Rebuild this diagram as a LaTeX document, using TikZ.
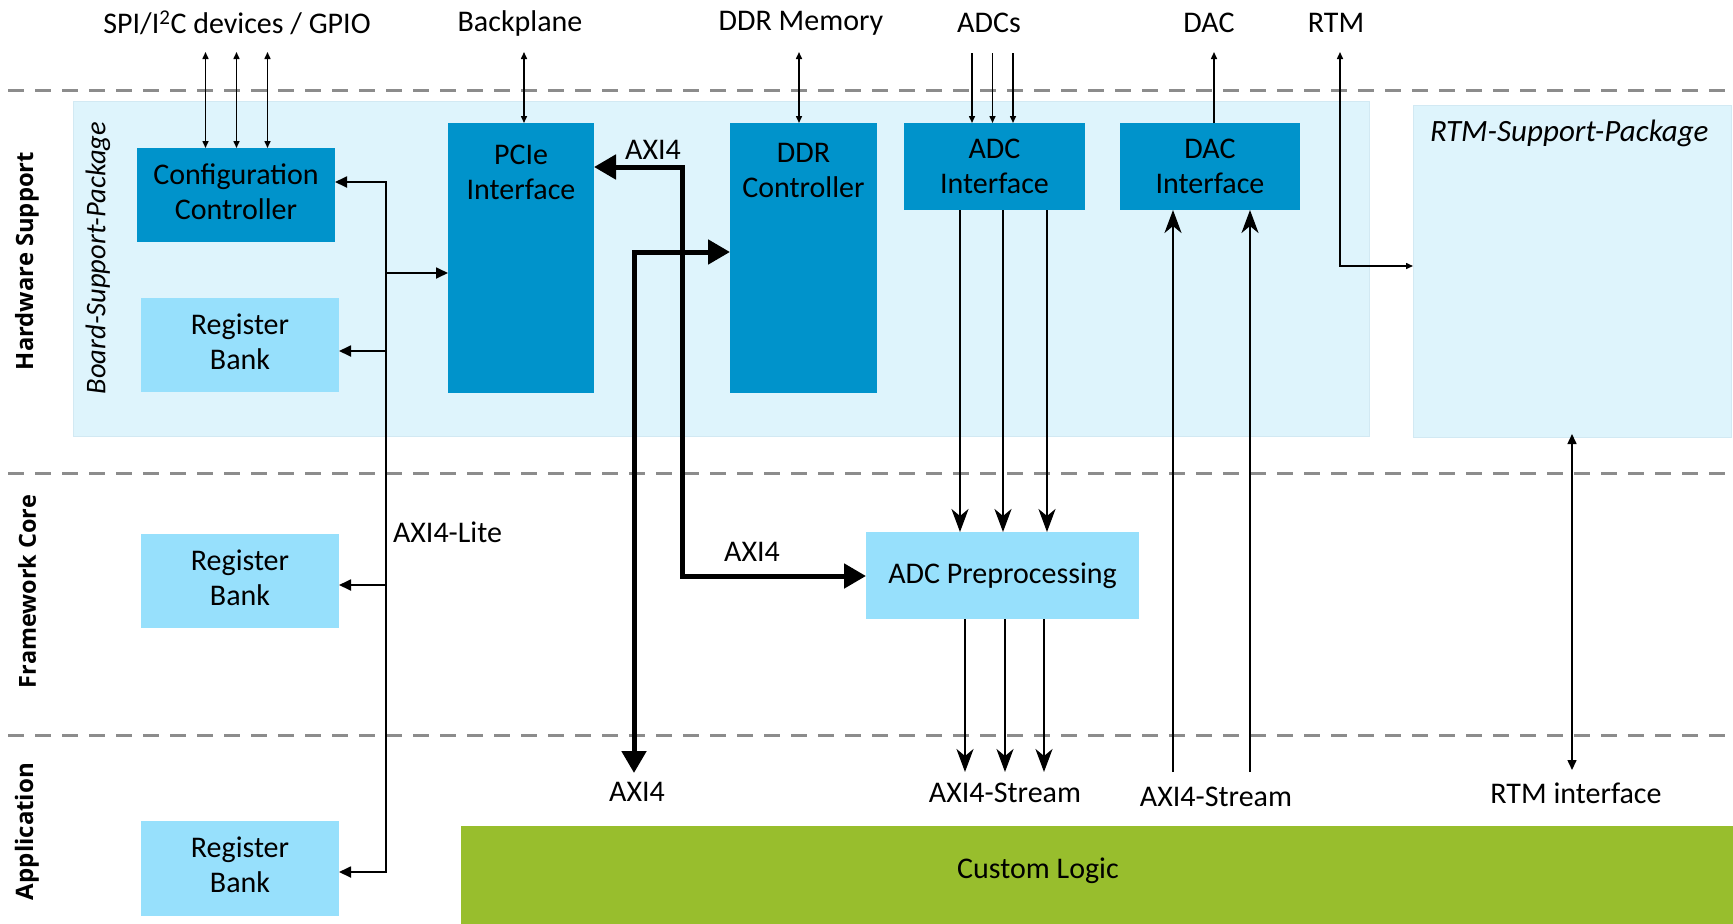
\documentclass[tikz,border=0pt]{standalone}
\usepackage{fontspec}
\usepackage{graphicx}
\setmainfont{Carlito}
\newfontfamily\tierfont{Open Sans}
\usetikzlibrary{arrows.meta}

\definecolor{ipblue}{RGB}{0,147,203}
\definecolor{regblue}{RGB}{151,224,252}
\definecolor{pkgblue}{RGB}{222,244,252}
\definecolor{pkgedge}{RGB}{210,233,243}
\definecolor{logicgreen}{RGB}{152,190,45}
\definecolor{tiergray}{RGB}{140,140,140}

% tier caption set in bold sans, scaled to a given length
\newcommand{\tiertext}[2]{\resizebox{#1}{!}{\tierfont\bfseries\fontsize{23}{28}\selectfont #2}}

\begin{document}
\begin{tikzpicture}[x=1pt,y=-1pt,
  every node/.style={inner sep=0pt, outer sep=0pt},
  lbl/.style={font=\fontsize{30}{35}\selectfont, align=center},
  ipcore/.style={fill=ipblue, anchor=north west, lbl},
  regbank/.style={fill=regblue, anchor=north west, lbl},
  lifted/.style={text depth=7pt},
  pkg/.style={fill=pkgblue, draw=pkgedge, line width=1pt, anchor=north west},
  tier/.style={rotate=90},
  tierline/.style={draw=tiergray, line width=3pt, dash pattern=on 16pt off 11pt},
  ext/.style={line width=1.5pt, {Triangle[length=7pt,width=6pt]}-{Triangle[length=7pt,width=6pt]}},
  extin/.style={line width=1.5pt, -{Triangle[length=7pt,width=6pt]}},
  lite/.style={line width=1.8pt, -{Triangle[length=12pt,width=11pt]}},
  liteboth/.style={line width=1.8pt, {Triangle[length=12pt,width=11pt]}-{Triangle[length=12pt,width=11pt]}},
  axi/.style={line width=5pt, {Triangle[length=22pt,width=24pt]}-{Triangle[length=22pt,width=24pt]}},
  stream/.style={line width=2.7pt, -{Stealth[length=23pt,width=17pt,inset=7pt]}},
  rtmlink/.style={line width=1.5pt, {Triangle[length=10pt,width=9pt]}-{Triangle[length=10pt,width=9pt]}},
]
\useasboundingbox (0,0) rectangle (1733,924);

% tier separators
\draw[tierline] (8,90.5) -- (1733,90.5);
\draw[tierline] (8,473) -- (1733,473);
\draw[tierline] (8,735.5) -- (1733,735.5);

% tier names
\node[tier] (tierhw) at (27,261) {\tiertext{218pt}{Hardware Support}};
\node[tier] (tierfw) at (27,591.5) {\tiertext{193pt}{Framework Core}};
\node[tier] (tierapp) at (27,831.5) {\tiertext{137pt}{Application}};

% support packages
\node[pkg, minimum width=1296pt, minimum height=335pt] (bsp) at (73,101) {};
\node[lbl, font=\fontsize{28.5}{34}\selectfont\itshape, rotate=90] (bsptxt) at (98,258) {Board-Support-Package};
\node[pkg, minimum width=318pt, minimum height=332pt] (rtmpkg) at (1413,105) {};
\node[lbl, font=\fontsize{31}{37}\selectfont\itshape, anchor=west] (rtmtxt) at (1430,133) {RTM-Support-Package};

% hardware support blocks
\node[ipcore, lifted, minimum width=198pt, minimum height=94pt] (cfg) at (137,148) {Configuration\\Controller};
\node[regbank, lifted, minimum width=198pt, minimum height=94pt] (reg1) at (141,298) {Register\\Bank};
\node[ipcore, minimum width=146pt, minimum height=270pt] (pcie) at (448,123) {};
\node[lbl] (pcietxt) at (521,172.5) {PCIe\\Interface};
\node[ipcore, minimum width=147pt, minimum height=270pt] (ddr) at (730,123) {};
\node[lbl] (ddrtxt) at (803.5,170.5) {DDR\\Controller};
\node[ipcore, minimum width=181pt, minimum height=87pt] (adcif) at (904,123) {ADC\\Interface};
\node[ipcore, minimum width=180pt, minimum height=87pt] (dacif) at (1120,123) {DAC\\Interface};

% framework core and application blocks
\node[regbank, lifted, minimum width=198pt, minimum height=94pt] (reg2) at (141,534) {Register\\Bank};
\node[regbank, minimum width=273pt, minimum height=87pt] (adcpre) at (866,532) {ADC Preprocessing};
\node[regbank, lifted, minimum width=198pt, minimum height=95pt] (reg3) at (141,821) {Register\\Bank};
\node[fill=logicgreen, anchor=north west, minimum width=1272pt, minimum height=98pt] (logic) at (461,826) {};
\node[lbl] (logictxt) at (1038,871) {Custom Logic};

% external interfaces
\node[lbl] (extspi) at (237,23) {SPI/I\textsuperscript{2}C devices / GPIO};
\node[lbl] (extbp) at (520,23) {Backplane};
\node[lbl] (extddr) at (801,23) {DDR Memory};
\node[lbl] (extadc) at (989,23) {ADCs};
\node[lbl] (extdac) at (1209,23) {DAC};
\node[lbl] (extrtm) at (1336,23) {RTM};

\coordinate (spi1) at (205.5,52);
\coordinate (spi2) at (236.5,52);
\coordinate (spi3) at (267.5,52);
\foreach \c in {spi1,spi2,spi3} \draw[ext] (\c) -- (\c |- cfg.north);
\coordinate (bp) at (524,52);
\draw[ext] (bp) -- (bp |- pcie.north);
\coordinate (mem) at (799,52);
\draw[ext] (mem) -- (mem |- ddr.north);
\coordinate (adc1) at (972,53);
\coordinate (adc2) at (992.5,53);
\coordinate (adc3) at (1013,53);
\foreach \c in {adc1,adc2,adc3} \draw[extin] (\c) -- (\c |- adcif.north);
\coordinate (dac) at (1214,52);
\draw[extin] (dac |- dacif.north) -- (dac);
\coordinate (rtmtop) at (1340,52);
\coordinate (rtmbend) at (1340,266);
\draw[ext] (rtmtop) -- (rtmbend) -- (rtmbend -| rtmpkg.west);

% AXI4-Lite register bus
\coordinate (liteTop) at (386,182);
\coordinate (liteBot) at (386,872);
\draw[liteboth] (liteTop -| cfg.east) -- (liteTop) -- (liteBot) -- (liteBot -| reg3.east);
\coordinate (tapPcie) at (386,273);
\coordinate (tapReg1) at (386,351);
\coordinate (tapReg2) at (386,585);
\draw[lite] (tapPcie) -- (tapPcie -| pcie.west);
\draw[lite] (tapReg1) -- (tapReg1 -| reg1.east);
\draw[lite] (tapReg2) -- (tapReg2 -| reg2.east);
\node[lbl, anchor=west] (litetxt) at (393,532) {AXI4-Lite};

% AXI4 memory-mapped links
\coordinate (aTop) at (682.5,167);
\coordinate (aBot) at (682.5,576);
\draw[axi] (aTop -| pcie.east) -- (aTop) -- (aBot) -- (aBot -| adcpre.west);
\coordinate (bTop) at (634,252);
\coordinate (bEnd) at (634,773);
\draw[axi] (bEnd) -- (bTop) -- (bTop -| ddr.west);
\node[lbl] (axiPcie) at (653,150) {AXI4};
\node[lbl] (axiPre) at (752,552) {AXI4};
\node[lbl] (axiApp) at (637,792) {AXI4};

% AXI4-Stream data paths
\coordinate (in1) at (960,0);
\coordinate (in2) at (1003,0);
\coordinate (in3) at (1047,0);
\foreach \c in {in1,in2,in3} \draw[stream] (\c |- adcif.south) -- (\c |- adcpre.north);
\coordinate (out1) at (965,772);
\coordinate (out2) at (1005,772);
\coordinate (out3) at (1044,772);
\foreach \c in {out1,out2,out3} \draw[stream] (\c |- adcpre.south) -- (\c);
\coordinate (dacin1) at (1173,772);
\coordinate (dacin2) at (1250,772);
\foreach \c in {dacin1,dacin2} \draw[stream] (\c) -- (\c |- dacif.south);
\node[lbl] (streamAdc) at (1005,793) {AXI4-Stream};
\node[lbl] (streamDac) at (1216,797) {AXI4-Stream};

% RTM application interface
\coordinate (rtmif) at (1572,770);
\draw[rtmlink] ([yshift=3pt]rtmif |- rtmpkg.south) -- (rtmif);
\node[lbl] (rtmiftxt) at (1576,793) {RTM interface};
\end{tikzpicture}
\end{document}
